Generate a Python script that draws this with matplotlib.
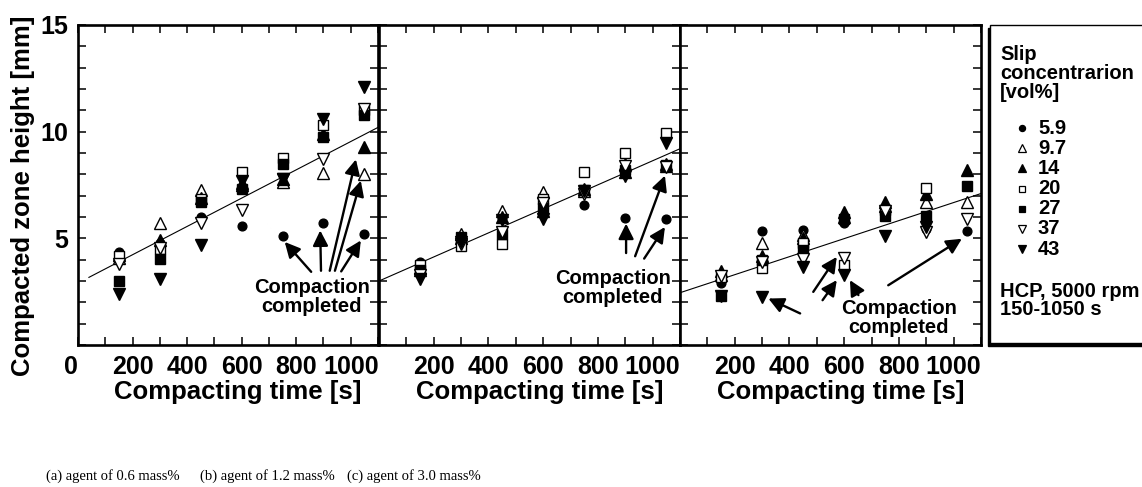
import numpy as np
import matplotlib
matplotlib.use("Agg")
import matplotlib.pyplot as plt
from matplotlib.patches import Rectangle
from matplotlib.ticker import MultipleLocator, FixedLocator

plt.rcParams['font.family'] = ['Liberation Sans', 'DejaVu Sans']
plt.rcParams['font.weight'] = 'bold'

# compacting time [s]
times = [150, 300, 450, 600, 750, 900, 1050]

# slip concentration [vol%]
conc_labels = ['5.9', '9.7', '14', '20', '27', '37', '43']

# compacted zone height [mm], one row per slip concentration
height_a = [
    [4.35, 4.8, 6.0, 5.6, 5.1, 5.7, 5.2],
    [4.1, 5.7, 7.25, 7.6, 7.65, 8.05, 8.0],
    [4.2, 4.9, 6.9, 7.5, 7.8, 9.9, 9.3],
    [4.15, 4.5, 6.85, 8.1, 8.75, 10.3, 11.0],
    [3.0, 4.05, 6.7, 7.3, 8.5, 9.75, 10.8],
    [3.8, 4.55, 5.7, 6.35, 7.8, 8.7, 11.05],
    [2.4, 3.1, 4.7, 7.7, 7.8, 10.6, 12.1],
]
height_b = [
    [3.9, 4.9, 5.95, 6.15, 6.55, 5.95, 5.92],
    [3.6, 5.2, 6.3, 7.15, 7.2, 8.5, 8.5],
    [3.5, 5.0, 6.0, 6.3, 7.3, 8.1, 8.4],
    [3.75, 4.65, 4.75, 6.85, 8.1, 9.0, 9.95],
    [3.5, 5.05, 5.2, 6.4, 7.25, 8.2, 8.45],
    [3.3, 4.75, 5.3, 6.65, 7.1, 8.4, 8.35],
    [3.1, 4.85, 5.85, 5.9, 7.2, 7.9, 9.45],
]
height_c = [
    [2.9, 5.33, 5.4, 5.72, 6.15, 5.45, 5.33],
    [3.3, 4.78, 5.15, 6.0, 6.5, 6.7, 6.7],
    [3.45, 4.15, 5.0, 6.23, 6.7, 7.1, 8.18],
    [3.2, 3.6, 4.8, 3.75, 6.35, 7.35, np.nan],
    [2.3, 4.0, 4.45, 5.9, 6.05, 6.07, 7.43],
    [3.25, 3.9, 4.05, 4.1, 6.3, 5.3, 5.92],
    [2.3, 2.26, 3.66, 3.3, 5.1, 5.55, np.nan],
]

# fitted lines: height at the start and at the end of each line
fit_x_a = [40, 1100]
fit_x = [0, 1100]
fit_a = [3.17, 10.2]
fit_b = [3.0, 9.2]
fit_c = [2.45, 7.1]

captions = ['(a) agent of 0.6 mass%', '(b) agent of 1.2 mass%', '(c) agent of 3.0 mass%']

# marker style per concentration: (marker, filled)
styles = [('o', True), ('^', False), ('^', True), ('s', False),
          ('s', True), ('v', False), ('v', True)]
msizes = {'o': 6.3, '^': 8, 'v': 8, 's': 6.7}

W, H = 1142, 487
fig = plt.figure(figsize=(W / 100, H / 100), dpi=100)

def px_axes(l, t, r, b):
    return fig.add_axes([l / W, 1 - b / H, (r - l) / W, (b - t) / H])

ax_a = px_axes(78, 25, 378, 345)
ax_b = px_axes(379, 25, 680, 345)
ax_c = px_axes(680, 25, 981, 345)

# arrows (tail -> head) and text location, in data units
arrows_a = [((855, 3.43), (758, 4.83)), ((891, 3.48), (888, 5.37)),
            ((923, 3.48), (1019, 8.7)), ((942, 3.48), (1037, 7.7)),
            ((965, 3.45), (1037, 4.9))]
arrows_b = [((903, 4.31), (903, 5.69)), ((936, 4.16), (1045, 7.94)),
            ((969, 4.05), (1045, 5.53))]
arrows_c = [((439, 1.48), (323, 2.18)), ((487, 2.49), (573, 4.13)),
            ((521, 2.1), (573, 3.04)), ((652, 2.34), (621, 3.04)),
            ((761, 2.8), (1030, 4.98))]

panels = [
    (ax_a, height_a, fit_x_a, fit_a, arrows_a, (857, 2.24)),
    (ax_b, height_b, fit_x, fit_b, arrows_b, (855, 2.66)),
    (ax_c, height_c, fit_x, fit_c, arrows_c, (800, 1.26)),
]

for i, (ax, heights, fx, fit, arrows, txt) in enumerate(panels):
    ax.plot(fx, fit, color='k', lw=0.8, zorder=2)
    for row, (mk, filled) in zip(heights, styles):
        ax.plot(times, row, linestyle='none', marker=mk, ms=msizes[mk],
                mfc='k' if filled else 'white', mec='k', mew=1.0, zorder=3)
    for tail, head in arrows:
        ax.annotate('', xy=head, xytext=tail,
                    arrowprops=dict(arrowstyle='-|>', color='k', lw=1.7,
                                    mutation_scale=23, shrinkA=0, shrinkB=0),
                    zorder=4)
    ax.text(txt[0], txt[1], 'Compaction\ncompleted', ha='center', va='center',
            fontsize=14.5, fontweight='bold', linespacing=1.02, zorder=5)

    ax.set_xlim(0, 1100)
    ax.set_ylim(0, 15)
    ax.xaxis.set_minor_locator(MultipleLocator(100))
    ax.yaxis.set_minor_locator(MultipleLocator(1))
    if i == 0:
        ax.xaxis.set_major_locator(FixedLocator([0, 200, 400, 600, 800, 1000]))
        ax.set_yticks([5, 10, 15])
        ax.set_yticklabels(['5', '10', '15'])
    else:
        ax.xaxis.set_major_locator(FixedLocator([200, 400, 600, 800, 1000]))
        ax.set_yticks([5, 10, 15])
        ax.set_yticklabels([])
    ax.tick_params(which='both', direction='in', top=True, right=True,
                   length=5.8, width=1.1, labelsize=18, pad=7)
    for lab in ax.get_xticklabels() + ax.get_yticklabels():
        lab.set_fontweight('bold')
    if i == 0:
        ax.get_xticklabels()[0].set_horizontalalignment('right')
    for sp in ax.spines.values():
        sp.set_linewidth(1.9)
    ax.set_xlabel('Compacting time [s]', fontsize=18.5, fontweight='bold')
    ax.xaxis.set_label_coords(0.5 + 10 / 300, -0.11)

fig.text(23 / W, 1 - 196 / H, 'Compacted zone height [mm]', rotation=90,
         ha='center', va='center', fontsize=18.5, fontweight='bold')

# legend box drawn by hand
lg = fig.add_axes([990 / W, 1 - 343 / H, (W - 990) / W, (343 - 25) / H])
lg.set_xlim(0, W - 990)
lg.set_ylim(343 - 25, 0)
lg.axis('off')
lg.add_patch(Rectangle((-2.5, 2.5), 170, 318, facecolor='k', edgecolor='k',
                       clip_on=False, zorder=1))
lg.add_patch(Rectangle((0, 0), 170, 318, facecolor='white', edgecolor='k',
                       lw=1.0, clip_on=False, zorder=2))
lg.text(10, 20, 'Slip\nconcentrarion\n[vol%]', ha='left', va='top',
        fontsize=14.5, fontweight='bold', linespacing=1.0, zorder=3)
for k, (lab, (mk, filled)) in enumerate(zip(conc_labels, styles)):
    y = 103 + 20.2 * k
    lg.plot([32], [y], linestyle='none', marker=mk, ms=msizes[mk] * 0.7,
            mfc='k' if filled else 'white', mec='k', mew=0.9, zorder=3,
            clip_on=False)
    lg.text(48, y, lab, ha='left', va='center', fontsize=14.5,
            fontweight='bold', zorder=3)
lg.text(10, 257, 'HCP, 5000 rpm\n150-1050 s', ha='left', va='top',
        fontsize=14.5, fontweight='bold', linespacing=0.95, zorder=3,
        clip_on=False)

for cx, cap in zip([113, 267, 414], captions):
    fig.text(cx / W, 1 - 476 / H, cap, ha='center', va='center',
             fontsize=10.5, fontweight='normal', family='Liberation Serif')

fig.savefig('out.png', dpi=100)
